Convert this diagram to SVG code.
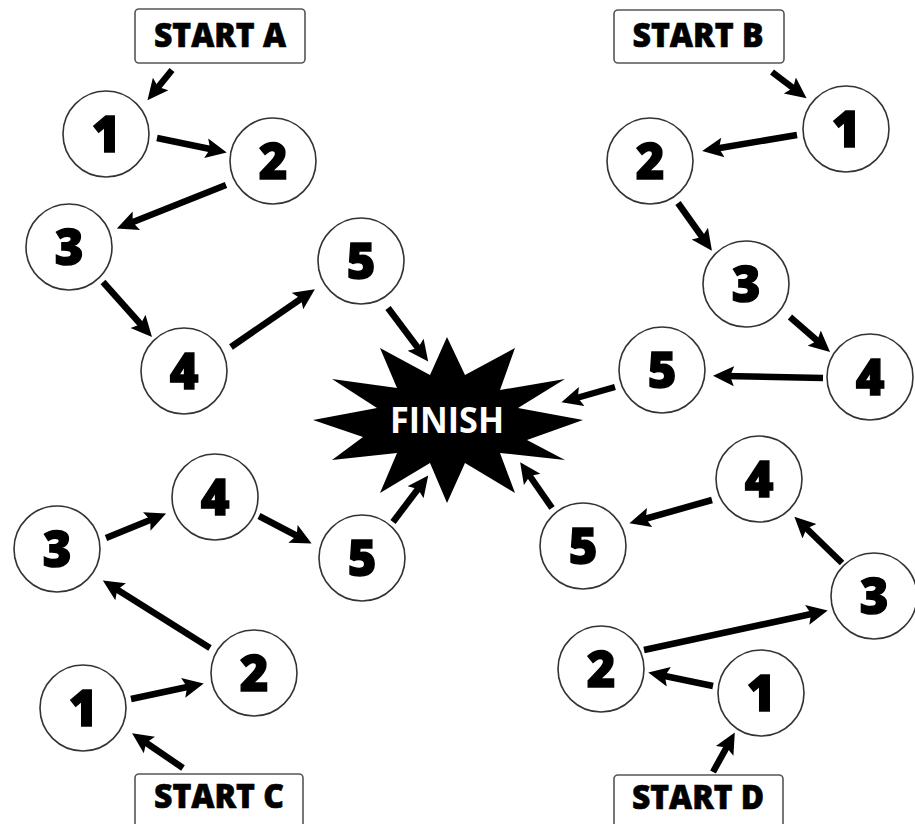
<svg xmlns="http://www.w3.org/2000/svg" width="915" height="824" viewBox="0 0 915 824">
<style>
.n circle{fill:#fff;stroke:#333;stroke-width:1.6}
.n text{font-family:"Open Sans","Noto Sans","DejaVu Sans",sans-serif;font-weight:800;font-size:49px;fill:#000;stroke:#000;stroke-width:1.4;text-anchor:middle}
.s rect{fill:#fff;stroke:#555;stroke-width:1.6}
.s text{font-family:"Open Sans","Noto Sans","DejaVu Sans",sans-serif;font-weight:800;font-size:33px;fill:#000;stroke:#000;stroke-width:0.6;text-anchor:middle}
#edges line{stroke:#000;stroke-width:6.5;marker-end:url(#ah)}
</style>
<defs>
<marker id="ah" viewBox="0 0 22 22" refX="9" refY="11" markerWidth="22" markerHeight="22" markerUnits="userSpaceOnUse" orient="auto">
<path d="M0,1 L21,11 L0,21 L4,11 Z" fill="#000"/>
</marker>
</defs>
<rect width="915" height="824" fill="#fff"/>

<g id="finish">
<polygon fill="#000" points="447,337 465,375 515,348 500,390 565,379 518,408 583,420 527,440 565,460 500,453 515,493 465,463 447,503 430,463 380,493 397,453 332,460 363,437 313,420 377,408 332,379 397,388 380,348 430,375"/>
<text x="447" y="433" font-family="'Open Sans','Noto Sans',sans-serif" font-weight="700" font-size="36" fill="#fff" text-anchor="middle" textLength="114" lengthAdjust="spacingAndGlyphs">FINISH</text>
</g>

<g id="startA" class="s"><rect x="135" y="9" width="170" height="54" rx="4"/><text x="220" y="47" textLength="132" lengthAdjust="spacingAndGlyphs">START A</text></g>
<g id="startB" class="s"><rect x="614" y="10" width="170" height="53" rx="4"/><text x="698" y="47" textLength="131" lengthAdjust="spacingAndGlyphs">START B</text></g>
<g id="startC" class="s"><rect x="135" y="774" width="168" height="60" rx="4"/><text x="219" y="808" textLength="130" lengthAdjust="spacingAndGlyphs">START C</text></g>
<g id="startD" class="s"><rect x="614" y="775" width="169" height="60" rx="4"/><text x="698" y="809" textLength="132" lengthAdjust="spacingAndGlyphs">START D</text></g>

<g id="A1" class="n"><circle cx="106" cy="134" r="43"/><text x="106" y="152">1</text></g>
<g id="A2" class="n"><circle cx="273" cy="161" r="43"/><text x="273" y="179">2</text></g>
<g id="A3" class="n"><circle cx="69" cy="247" r="43"/><text x="69" y="265">3</text></g>
<g id="A4" class="n"><circle cx="184" cy="371" r="43"/><text x="184" y="389">4</text></g>
<g id="A5" class="n"><circle cx="361" cy="261" r="43"/><text x="361" y="279">5</text></g>

<g id="B1" class="n"><circle cx="846" cy="129" r="43"/><text x="846" y="147">1</text></g>
<g id="B2" class="n"><circle cx="650" cy="161" r="43"/><text x="650" y="179">2</text></g>
<g id="B3" class="n"><circle cx="746" cy="284" r="43"/><text x="746" y="302">3</text></g>
<g id="B4" class="n"><circle cx="870" cy="377" r="43"/><text x="870" y="395">4</text></g>
<g id="B5" class="n"><circle cx="662" cy="370" r="43"/><text x="662" y="388">5</text></g>

<g id="C1" class="n"><circle cx="83" cy="708" r="43"/><text x="83" y="726">1</text></g>
<g id="C2" class="n"><circle cx="254" cy="673" r="43"/><text x="254" y="691">2</text></g>
<g id="C3" class="n"><circle cx="57" cy="549" r="43"/><text x="57" y="567">3</text></g>
<g id="C4" class="n"><circle cx="215" cy="497" r="43"/><text x="215" y="515">4</text></g>
<g id="C5" class="n"><circle cx="362" cy="558" r="43"/><text x="362" y="576">5</text></g>

<g id="D1" class="n"><circle cx="761" cy="693" r="43"/><text x="761" y="711">1</text></g>
<g id="D2" class="n"><circle cx="601" cy="669" r="43"/><text x="601" y="687">2</text></g>
<g id="D3" class="n"><circle cx="874" cy="596" r="43"/><text x="874" y="614">3</text></g>
<g id="D4" class="n"><circle cx="759" cy="479" r="43"/><text x="759" y="497">4</text></g>
<g id="D5" class="n"><circle cx="583" cy="546" r="43"/><text x="583" y="564">5</text></g>

<g id="edges">
<line x1="172" y1="70" x2="155" y2="91"/>
<line x1="157" y1="138" x2="215" y2="150"/>
<line x1="226" y1="185" x2="128" y2="224"/>
<line x1="103" y1="282" x2="144" y2="328"/>
<line x1="231" y1="347" x2="305" y2="296"/>
<line x1="388" y1="308" x2="421" y2="352"/>

<line x1="772" y1="72" x2="797" y2="91"/>
<line x1="797" y1="135" x2="714" y2="149"/>
<line x1="678" y1="203" x2="705" y2="241"/>
<line x1="790" y1="317" x2="821" y2="344"/>
<line x1="823" y1="378" x2="725" y2="376"/>
<line x1="615" y1="387" x2="573" y2="399"/>

<line x1="183" y1="768" x2="142" y2="740"/>
<line x1="131" y1="699" x2="192" y2="686"/>
<line x1="210" y1="648" x2="113" y2="587"/>
<line x1="106" y1="538" x2="155" y2="518"/>
<line x1="259" y1="516" x2="301" y2="538"/>
<line x1="393" y1="522" x2="421" y2="485"/>

<line x1="713" y1="772" x2="729" y2="743"/>
<line x1="713" y1="686" x2="660" y2="675"/>
<line x1="644" y1="650" x2="816" y2="613"/>
<line x1="842" y1="563" x2="803" y2="525"/>
<line x1="712" y1="500" x2="641" y2="520"/>
<line x1="552" y1="508" x2="527" y2="472"/>
</g>
</svg>
